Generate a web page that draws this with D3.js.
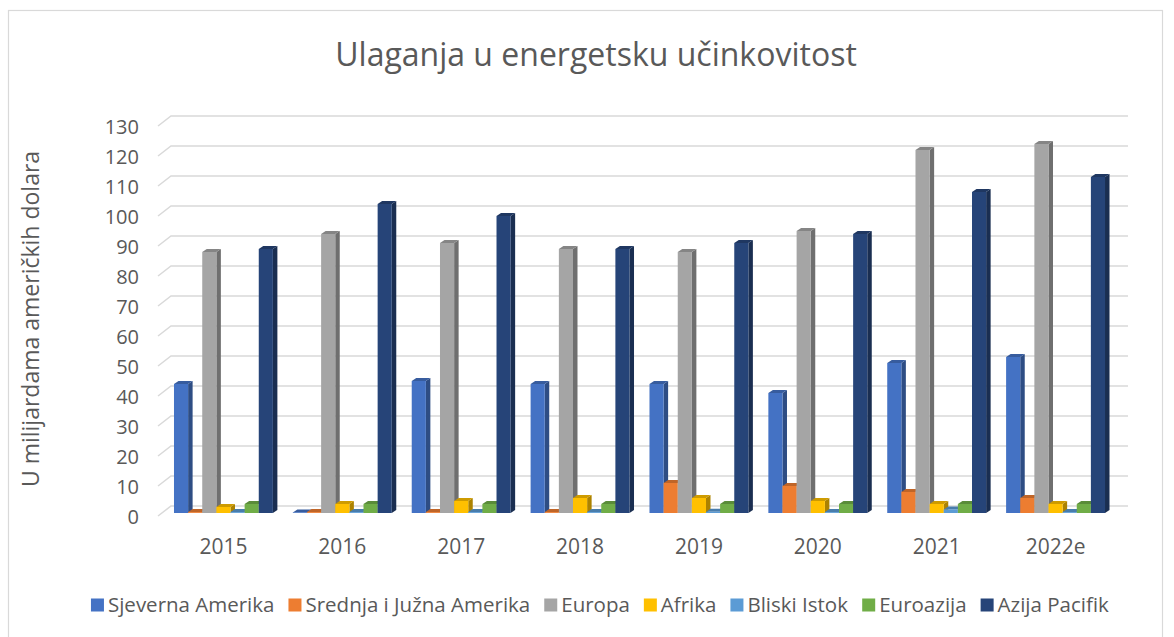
<!DOCTYPE html>
<html>
<head>
<meta charset="utf-8">
<script src="https://cdn.jsdelivr.net/npm/d3@7"></script>
<style>
  body { margin: 0; background: #fff; }
  text { font-family: 'Open Sans', sans-serif; fill: #595959; }
</style>
</head>
<body>
<script>
// chart data
const years = ['2015', '2016', '2017', '2018', '2019', '2020', '2021', '2022e']
const seriesNames = ['Sjeverna Amerika', 'Srednja i Južna Amerika', 'Europa', 'Afrika', 'Bliski Istok', 'Euroazija', 'Azija Pacifik']
const sjevernaAmerika = [43, 0.2, 44, 43, 43, 40, 50, 52]
const srednjaJuznaAmerika = [0.3, 0.3, 0.3, 0.3, 10, 9, 7, 5]
const europa = [87, 93, 90, 88, 87, 94, 121, 123]
const afrika = [2, 3, 4, 5, 5, 4, 3, 3]
const bliskiIstok = [0.3, 0.3, 0.3, 0.3, 0.4, 0.3, 1.2, 0.3]
const euroazija = [3, 3, 3, 3, 3, 3, 3, 3]
const azijaPacifik = [88, 103, 99, 88, 90, 93, 107, 112]
const yTicks = [0, 10, 20, 30, 40, 50, 60, 70, 80, 90, 100, 110, 120, 130]

const seriesValues = [sjevernaAmerika, srednjaJuznaAmerika, europa, afrika, bliskiIstok, euroazija, azijaPacifik]
const colors = ['#4472C4', '#ED7D31', '#A5A5A5', '#FFC000', '#5B9BD5', '#70AD47', '#264478']

const width = 1174
const height = 637

const svg = d3.select('body').append('svg')
  .attr('width', width)
  .attr('height', height)

// outer chart border
svg.append('rect')
  .attr('x', 8.5).attr('y', 10.5)
  .attr('width', 1154).attr('height', 650)
  .attr('fill', 'none')
  .attr('stroke', '#d9d9d9')
  .attr('stroke-width', 1.2)

// scales
const yScale = d3.scaleLinear().domain([0, 130]).range([513, 123])
const xScale = d3.scaleBand().domain(years).range([164, 1115]).paddingInner(0.168).paddingOuter(0.084)
const sScale = d3.scaleBand().domain(seriesNames).range([0, xScale.bandwidth()])

// 3d offsets
const depthX = 4.5
const depthY = -3
const wallX = 13
const wallY = -7
const wallRight = 1128

// back wall gridlines with the slanted side wall
const grid = svg.append('g')
grid.selectAll('path')
  .data(yTicks)
  .enter()
  .append('path')
  .attr('d', d => {
    const yb = yScale(d) + wallY
    return 'M' + (wallX + 145) + ',' + (yScale(d) + 3) + 'L' + (158 + wallX) + ',' + yb + 'L' + wallRight + ',' + yb
  })
  .attr('fill', 'none')
  .attr('stroke', '#d9d9d9')
  .attr('stroke-width', 1.5)

// y tick labels
svg.append('g').selectAll('text')
  .data(yTicks)
  .enter()
  .append('text')
  .attr('x', 139)
  .attr('y', d => yScale(d) + 3.7)
  .attr('dy', '0.35em')
  .attr('text-anchor', 'end')
  .style('font-size', '20px')
  .text(d => d)

// x labels
svg.append('g').selectAll('text')
  .data(years)
  .enter()
  .append('text')
  .attr('x', d => xScale(d) + xScale.bandwidth() / 2)
  .attr('y', 547)
  .attr('dy', '0.35em')
  .attr('text-anchor', 'middle')
  .style('font-size', '21px')
  .text(d => d)

// bars, drawn per year left to right so fronts cover neighbouring sides
const bars = []
years.forEach((yr, i) => {
  seriesNames.forEach((s, j) => {
    bars.push({ year: yr, series: s, idx: j, value: seriesValues[j][i] })
  })
})

const barG = svg.append('g')
const bar = barG.selectAll('g')
  .data(bars)
  .enter()
  .append('g')

const bw = sScale.bandwidth()
const bx = d => xScale(d.year) + sScale(d.series)

// side face
bar.append('path')
  .attr('d', d => {
    const x1 = bx(d) + bw, y0 = yScale(0), y1 = yScale(d.value)
    return 'M' + x1 + ',' + y0 + 'L' + (x1 + depthX) + ',' + (y0 + depthY) +
      'L' + (x1 + depthX) + ',' + (y1 + depthY) + 'L' + x1 + ',' + y1 + 'Z'
  })
  .attr('fill', d => d3.color(colors[d.idx]).darker(1.1))

// top face
bar.append('path')
  .attr('d', d => {
    const x0 = bx(d), y1 = yScale(d.value)
    return 'M' + x0 + ',' + y1 + 'L' + (x0 + depthX) + ',' + (y1 + depthY) +
      'L' + (x0 + bw + depthX) + ',' + (y1 + depthY) + 'L' + (x0 + bw) + ',' + y1 + 'Z'
  })
  .attr('fill', d => d3.color(colors[d.idx]).darker(0.6))

// front face
bar.append('rect')
  .attr('x', d => bx(d))
  .attr('y', d => yScale(d.value))
  .attr('width', bw)
  .attr('height', d => yScale(0) - yScale(d.value))
  .attr('fill', d => colors[d.idx])

// title
svg.append('text')
  .attr('x', 596)
  .attr('y', 55)
  .attr('dy', '0.35em')
  .attr('text-anchor', 'middle')
  .style('font-size', '32px')
  .text('Ulaganja u energetsku učinkovitost')

// y axis title
svg.append('text')
  .attr('transform', 'translate(31,319) rotate(-90)')
  .attr('dy', '0.35em')
  .attr('text-anchor', 'middle')
  .style('font-size', '23px')
  .text('U milijardama američkih dolara')

// legend, laid out in a row and centred
const legend = svg.append('g')
const items = legend.selectAll('g')
  .data(seriesNames)
  .enter()
  .append('g')
items.append('rect')
  .attr('width', 13).attr('height', 13)
  .attr('y', -6.5)
  .attr('fill', (d, i) => colors[i])
items.append('text')
  .attr('x', 17)
  .attr('dy', '0.35em')
  .style('font-size', '20.5px')
  .text(d => d)

let lx = 0
items.each(function () {
  d3.select(this).attr('transform', 'translate(' + lx + ',0)')
  lx += this.getBBox().width + 14
})
lx -= 14
legend.attr('transform', 'translate(' + (600 - lx / 2) + ',605)')
</script>
</body>
</html>
